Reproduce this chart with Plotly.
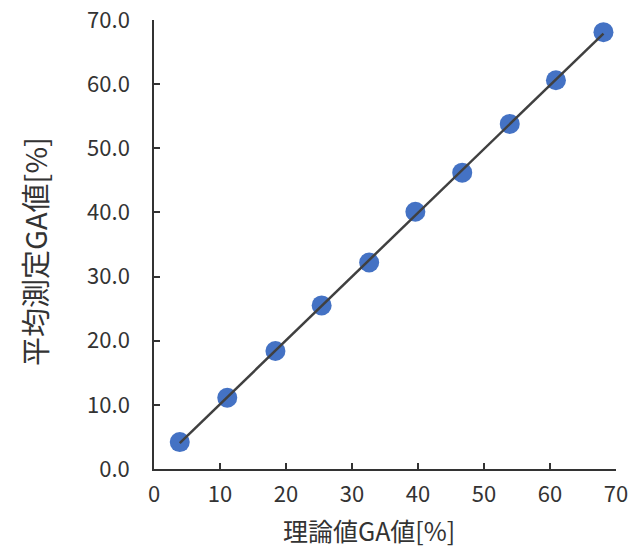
import numpy as np
import plotly.graph_objects as go

theory_ga = [3.9, 11.1, 18.4, 25.4, 32.6, 39.6, 46.7, 53.9, 60.9, 68.1]
measured_ga = [4.2, 11.1, 18.4, 25.5, 32.2, 40.1, 46.2, 53.8, 60.6, 68.1]
x_ticks = [0, 10, 20, 30, 40, 50, 60, 70]
y_ticks = [0, 10, 20, 30, 40, 50, 60, 70]

slope, intercept = np.polyfit(theory_ga, measured_ga, 1)
fit_x = [min(theory_ga), max(theory_ga)]
fit_y = [slope * v + intercept for v in fit_x]

fig = go.Figure()
fig.add_trace(go.Scatter(x=theory_ga, y=measured_ga, mode="markers",
                         marker=dict(size=20, color="#4472C4", line=dict(width=0)),
                         showlegend=False, cliponaxis=False))
fig.add_trace(go.Scatter(x=fit_x, y=fit_y, mode="lines",
                         line=dict(color="#404040", width=2.5), showlegend=False))

font = "Noto Sans CJK JP"
fig.update_layout(
    width=640, height=556,
    margin=dict(l=154, r=24, t=20, b=87),
    plot_bgcolor="white", paper_bgcolor="white",
    font=dict(family=font, color="#333333", size=22),
)
fig.update_xaxes(range=[0, 70], tickvals=x_ticks, ticktext=[str(v) for v in x_ticks],
                 showgrid=False, zeroline=False, showline=True, linecolor="#333333", linewidth=1.5,
                 ticks="inside", ticklen=6, tickcolor="#333333", tickwidth=1.5,
                 ticklabelstandoff=5, automargin=False, tickfont=dict(size=22))
fig.update_yaxes(range=[0, 70], tickvals=y_ticks, ticktext=[f"{v:.1f}" for v in y_ticks],
                 showgrid=False, zeroline=False, showline=True, linecolor="#333333", linewidth=1.5,
                 ticks="inside", ticklen=6, tickcolor="#333333", tickwidth=1.5,
                 ticklabelstandoff=18, automargin=False, tickfont=dict(size=22))

fig.add_annotation(text="理論値GA値[%]", xref="paper", yref="paper", x=0.465, y=-0.136,
                   xanchor="center", yanchor="middle", showarrow=False,
                   font=dict(size=25, family=font, color="#333333"))
fig.add_annotation(text="平均測定GA値[%]", xref="paper", yref="paper", x=-0.26, y=0.4855,
                   xanchor="center", yanchor="middle", showarrow=False, textangle=-90,
                   font=dict(size=29, family=font, color="#333333"))

fig.write_html("out.html", config={"displayModeBar": False},
               post_script="document.body.style.margin='0';")
